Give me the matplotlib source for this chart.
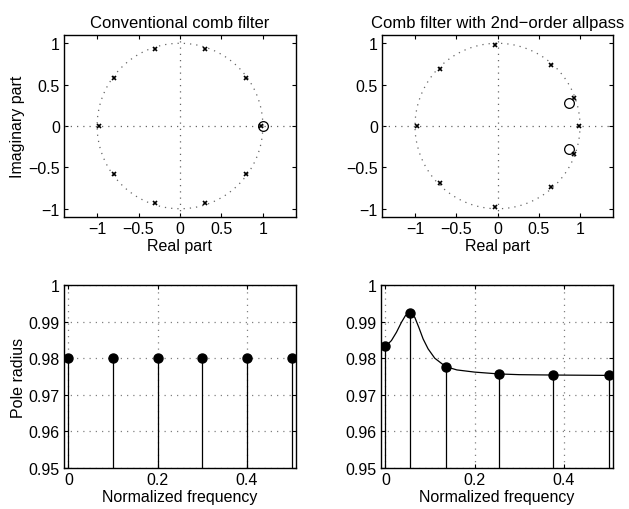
import numpy as np
import matplotlib
matplotlib.use("Agg")
import matplotlib.pyplot as plt

plt.rcParams['font.family'] = ['Liberation Sans', 'DejaVu Sans']
plt.rcParams['font.size'] = 11.5

# --- data ---
# conventional comb: pole frequencies / radius, one zero at z=1
conv_freq = [0.0, 0.1, 0.2, 0.3, 0.4, 0.5]
conv_radius = [0.98, 0.98, 0.98, 0.98, 0.98, 0.98]
conv_zero_re = [1.0]
conv_zero_im = [0.0]

# comb with 2nd-order allpass
ap_freq = [0.0, 0.0553, 0.135, 0.254, 0.376, 0.5]
ap_radius = [0.9832, 0.9923, 0.9777, 0.9757, 0.9754, 0.9753]
ap_zero_re = [0.867, 0.867]
ap_zero_im = [0.28, -0.28]

# pole radius curve (continuous)
curve_f = [0.0, 0.0134, 0.0247, 0.0359, 0.0448, 0.0553, 0.0657, 0.0747,
           0.0844, 0.0956, 0.1105, 0.135, 0.16, 0.2, 0.254, 0.3, 0.376,
           0.44, 0.5]
curve_r = [0.9832, 0.98482, 0.98709, 0.98982, 0.99164, 0.99227, 0.99118,
           0.98845, 0.98527, 0.98255, 0.9800, 0.9777, 0.9768, 0.9762,
           0.9757, 0.9755, 0.9754, 0.97535, 0.9753]

DOT = (0, (1, 4))


def mirror_poles(freq, radius):
    # poles on upper half plus conjugates (skip 0 and 0.5 duplicates)
    f = np.array(freq)
    r = np.array(radius)
    ang = 2 * np.pi * f
    z = r * np.exp(1j * ang)
    zc = np.conj(z[(f > 0) & (f < 0.5)])
    return np.concatenate([z, zc])


def zplane(ax, poles, zre, zim, title):
    t = np.linspace(0, 2 * np.pi, 400)
    ax.plot(np.cos(t), np.sin(t), ls=DOT, color='0.4', lw=0.9)
    ax.axhline(0, ls=DOT, color='0.4', lw=0.9)
    ax.axvline(0, ls=DOT, color='0.4', lw=0.9)
    ax.plot(poles.real, poles.imag, 'x', color='k', ms=3.5, mew=1.2)
    ax.plot(zre, zim, 'o', mfc='none', mec='k', ms=7, mew=0.9)
    ax.set_xlim(-1.4, 1.4)
    ax.set_ylim(-1.1, 1.1)
    ax.set_xticks([-1, -0.5, 0, 0.5, 1])
    ax.set_xticklabels(['\u22121', '\u22120.5', '0', '0.5', '1'])
    ax.set_yticks([-1, -0.5, 0, 0.5, 1])
    ax.set_yticklabels(['\u22121', '\u22120.5', '0', '0.5', '1'])
    ax.set_xlabel('Real part', labelpad=1)
    ax.set_title(title, fontsize=12, pad=6)


def radplot(ax, freq, radius):
    ax.grid(True, ls=DOT, color='0.5', lw=0.9)
    ax.vlines(freq, 0.9, radius, colors='k', lw=0.9)
    ax.plot(freq, radius, 'o', color='k', ms=6.5)
    ax.set_xlim(-0.01, 0.51)
    ax.set_ylim(0.95, 1.0)
    ax.set_xticks([0, 0.2, 0.4])
    ax.set_xticklabels(['0', '0.2', '0.4'])
    ax.set_yticks([0.95, 0.96, 0.97, 0.98, 0.99, 1.0])
    ax.set_yticklabels(['0.95', '0.96', '0.97', '0.98', '0.99', '1'])
    ax.set_xlabel('Normalized frequency', labelpad=1)


fig = plt.figure(figsize=(6.29, 5.10), dpi=100)
ax1 = fig.add_axes([0.1017, 0.5725, 0.3689, 0.3569])
ax2 = fig.add_axes([0.6073, 0.5725, 0.3673, 0.3569])
ax3 = fig.add_axes([0.1017, 0.0804, 0.3689, 0.3588])
ax4 = fig.add_axes([0.6057, 0.0804, 0.3689, 0.3588])

zplane(ax1, mirror_poles(np.array(conv_freq), np.array(conv_radius)),
       conv_zero_re, conv_zero_im, 'Conventional comb filter')
ax1.set_ylabel('Imaginary part', labelpad=2)
zplane(ax2, mirror_poles(np.array(ap_freq), np.array(ap_radius)),
       ap_zero_re, ap_zero_im, 'Comb filter with 2nd\u2212order allpass')

radplot(ax3, conv_freq, conv_radius)
ax3.set_ylabel('Pole radius', labelpad=2)
ax4.plot(curve_f, curve_r, '-', color='k', lw=0.9)
radplot(ax4, ap_freq, ap_radius)

for ax in (ax1, ax2, ax3, ax4):
    ax.tick_params(direction='in', top=True, right=True, length=3, width=0.8, pad=3)
    for s in ax.spines.values():
        s.set_linewidth(1.0)

fig.savefig('out.png', dpi=100)
